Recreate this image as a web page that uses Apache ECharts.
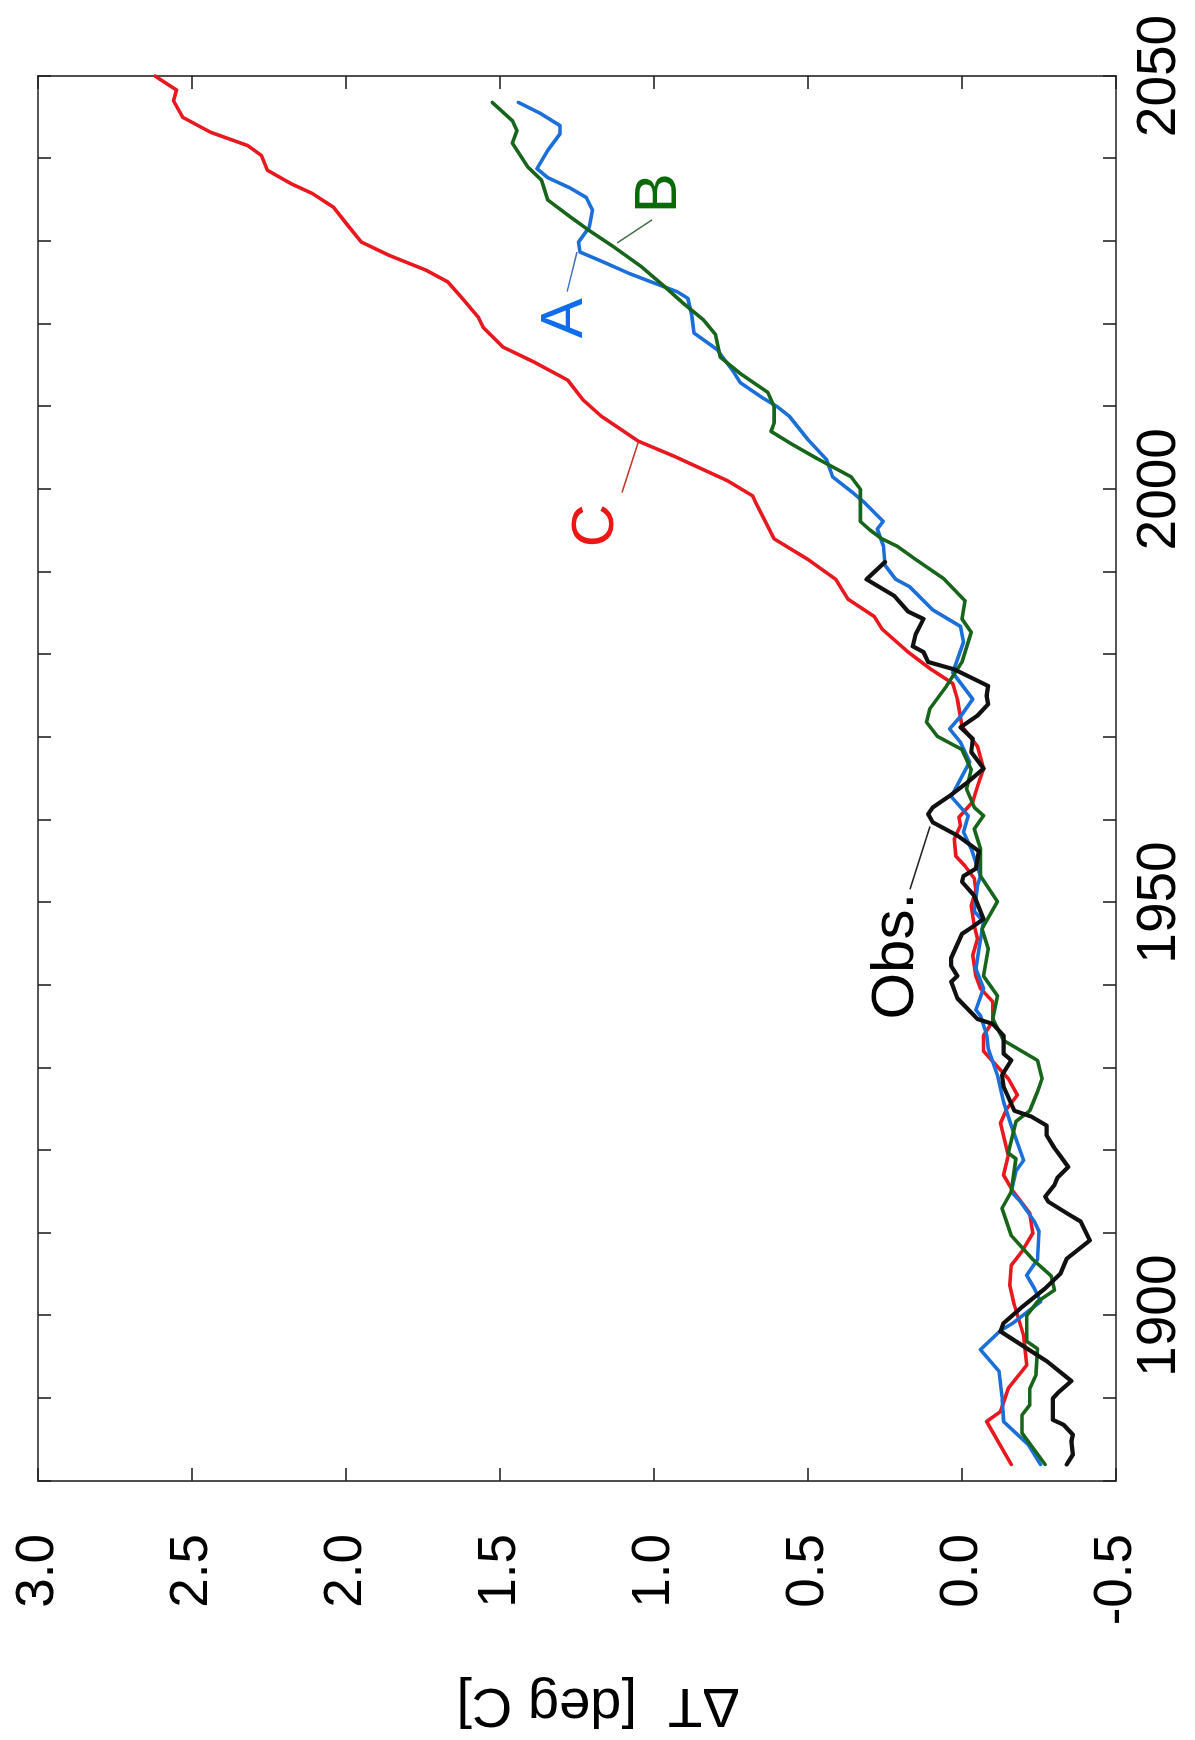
<!DOCTYPE html>
<html>
<head>
<meta charset="utf-8">
<script src="https://cdn.jsdelivr.net/npm/echarts@6/dist/echarts.min.js"></script>
<style>
    html, body { margin: 0; padding: 0; background: #fff; overflow: hidden; }
    /* chart is drawn upright, then turned a quarter turn to the left like the scan */
    #main {
        position: absolute; left: 0; top: 0;
        width: 1740px; height: 1195px;
        transform-origin: 0 0;
        transform: translate(0, 1740px) rotate(-90deg);
    }
</style>
</head>
<body>
<div id="main"></div>
<script type="text/javascript">
    // C (red)
    var yearsC = [1882, 1887.2, 1888.4, 1891.2, 1894, 1897.6, 1901.3, 1903.7, 1906.1, 1907.8, 1910, 1912.4, 1915.1, 1917, 1919.4,
        1923.3, 1925, 1926.7, 1928.7, 1932, 1933.9, 1935.6, 1938, 1939.6, 1941.1, 1943.6, 1945.6, 1947.2, 1949.6, 1951.6, 1952.9,
        1954.4, 1955.6, 1957.7, 1959.3, 1960.3, 1962.2, 1964, 1966.2, 1968.9, 1971.3, 1974.6, 1976.5, 1978.2, 1980.3, 1983.1,
        1984.6, 1986.7, 1989.1, 1991.5, 1994, 1998.4, 1999.2, 2001, 2004, 2005.8, 2008.8, 2010.8, 2013.2, 2015.4, 2017.2, 2019.6,
        2020.8, 2023.3, 2025.1, 2026.5, 2028.3, 2029.9, 2032.2, 2034.1, 2035.8, 2037, 2038.6, 2040.4, 2041.6, 2043.2, 2045,
        2047, 2048.3, 2050];
    var dtC = [-0.16, -0.08, -0.125, -0.15, -0.21, -0.2, -0.17, -0.155, -0.16, -0.195, -0.23, -0.22, -0.165, -0.135, -0.15,
        -0.125, -0.145, -0.18, -0.15, -0.07, -0.07, -0.1, -0.1, -0.06, -0.045, -0.035, -0.05, -0.04, -0.03, -0.045, -0.04,
        -0.01, 0.02, 0.025, 0.005, 0.01, -0.035, -0.05, -0.07, -0.05, 0.0, 0.015, 0.03, 0.1, 0.175, 0.26,
        0.285, 0.37, 0.41, 0.5, 0.61, 0.67, 0.68, 0.76, 0.935, 1.05, 1.17, 1.23, 1.28, 1.39, 1.49, 1.555,
        1.57, 1.627, 1.67, 1.74, 1.86, 1.95, 2.0, 2.04, 2.11, 2.18, 2.255, 2.275, 2.32, 2.44, 2.53,
        2.56, 2.55, 2.62];

    // A (blue)
    var yearsA = [1882, 1884.4, 1887.2, 1890.2, 1893.3, 1895.9, 1898.2, 1899.1, 1901.7, 1903.3, 1904.9, 1906.8, 1910.2, 1911.4,
        1913.8, 1915, 1917.5, 1918.8, 1923, 1925.9, 1929.1, 1932.3, 1934, 1936.3, 1937, 1939.6, 1942, 1944.4, 1947.7, 1948.9,
        1952, 1953.2, 1956.5, 1958.5, 1960.5, 1962.8, 1964.9, 1967, 1969.4, 1971, 1972.5, 1974.6, 1977.8, 1981.5, 1983.4,
        1985.4, 1988.2, 1989.1, 1990.8, 1993.1, 1995.2, 1996.1, 1998.5, 1999.6, 2001.5, 2003.6, 2006, 2008.8, 2010, 2011,
        2012.9, 2014.1, 2016.9, 2018.9, 2020.9, 2023.1, 2023.9, 2025.1, 2026.1, 2027.5, 2028.7, 2029.9, 2031.7, 2033.8,
        2035.3, 2036.5, 2037.7, 2038.8, 2041, 2043, 2044, 2045.5, 2046.8];
    var dtA = [-0.255, -0.215, -0.135, -0.13, -0.12, -0.06, -0.125, -0.165, -0.255, -0.235, -0.21, -0.245, -0.25, -0.235,
        -0.19, -0.16, -0.175, -0.2, -0.16, -0.135, -0.115, -0.085, -0.08, -0.06, -0.045, -0.07, -0.045, -0.055, -0.07, -0.04,
        -0.05, -0.06, -0.03, -0.005, -0.02, 0.035, 0.005, -0.025, 0.005, 0.04, 0.005, -0.035, 0.03, -0.005, 0.005,
        0.095, 0.17, 0.215, 0.25, 0.255, 0.275, 0.256, 0.32, 0.355, 0.42, 0.44, 0.5, 0.56, 0.6, 0.645,
        0.72, 0.74, 0.795, 0.87, 0.877, 0.89, 0.925, 1.01, 1.08, 1.165, 1.24, 1.245, 1.21, 1.2,
        1.22, 1.275, 1.345, 1.38, 1.345, 1.305, 1.305, 1.37, 1.44];

    // B (green)
    var yearsB = [1882, 1885.8, 1888, 1889.2, 1891.2, 1892.8, 1896, 1896.9, 1900, 1901.7, 1903.1, 1904.8, 1906.8, 1909.7, 1913,
        1915, 1919, 1919.7, 1923.5, 1924.8, 1927.1, 1928.7, 1930.9, 1933.3, 1935.9, 1938.7, 1941.1, 1944.4, 1946.8, 1950.1,
        1953.2, 1956.5, 1958.9, 1960.5, 1961.5, 1963.7, 1966.1, 1968.5, 1970.1, 1971.8, 1973.4, 1976.2, 1979.1, 1982.7, 1984.3,
        1986.5, 1989.2, 1991.5, 1993.1, 1994, 1995.1, 1996.1, 1998, 2000, 2001.5, 2003.7, 2005.4, 2007, 2008, 2010, 2011.7,
        2014, 2016, 2018.7, 2020.5, 2022.5, 2024.5, 2026.9, 2029.3, 2031.3, 2032.9, 2035, 2037.4, 2039, 2041.9, 2043.4,
        2044.6, 2046.8];
    var dtB = [-0.27, -0.195, -0.195, -0.22, -0.22, -0.24, -0.245, -0.21, -0.21, -0.245, -0.3, -0.29, -0.23, -0.16, -0.13,
        -0.16, -0.175, -0.15, -0.175, -0.22, -0.245, -0.26, -0.245, -0.135, -0.1, -0.115, -0.07, -0.085, -0.065, -0.115,
        -0.06, -0.06, -0.04, -0.07, -0.04, -0.015, -0.03, 0.0, 0.08, 0.115, 0.105, 0.05, 0.0, -0.03, 0.0,
        -0.01, 0.06, 0.15, 0.21, 0.26, 0.3, 0.33, 0.33, 0.33, 0.36, 0.47, 0.55, 0.62, 0.61, 0.61, 0.63,
        0.72, 0.785, 0.8, 0.84, 0.905, 0.965, 1.04, 1.13, 1.21, 1.27, 1.345, 1.365, 1.41, 1.46, 1.445,
        1.46, 1.525];

    // Obs. (black)
    var yearsObs = [1882, 1883.2, 1884.8, 1885.6, 1886.8, 1887.4, 1890, 1890.8, 1892.1, 1894.5, 1898.1, 1899.1, 1900.9, 1903.3,
        1905.1, 1906.9, 1909.1, 1911.4, 1912.4, 1913.8, 1914.4, 1915.8, 1916.7, 1918, 1919.3, 1920.3, 1921.8, 1923, 1924.1,
        1924.8, 1927.7, 1929.1, 1930.9, 1931.7, 1933.9, 1935.3, 1935.9, 1938.4, 1940.4, 1941.1, 1942.3, 1943.3, 1946.2, 1947.2,
        1948, 1950.8, 1952.5, 1953.2, 1954.1, 1956.2, 1958.1, 1959.7, 1960.7, 1961.5, 1962.9, 1964.6, 1966.2, 1968.2, 1969.8,
        1971.2, 1972.6, 1974, 1975, 1976.2, 1978.2, 1979.1, 1980.3, 1981, 1982.5, 1984.3, 1985.2, 1987.1, 1989.1, 1991.2];
    var dtObs = [-0.34, -0.36, -0.355, -0.36, -0.33, -0.295, -0.295, -0.315, -0.355, -0.275, -0.125, -0.135, -0.19, -0.27,
        -0.32, -0.34, -0.415, -0.385, -0.34, -0.28, -0.27, -0.3, -0.31, -0.345, -0.32, -0.3, -0.275, -0.275, -0.225,
        -0.17, -0.135, -0.13, -0.16, -0.135, -0.135, -0.1, -0.05, 0.015, 0.035, 0.015, 0.035, 0.035, 0.0, -0.04,
        -0.07, -0.04, 0.0, -0.005, -0.045, -0.055, 0.015, 0.095, 0.11, 0.095, 0.04, -0.02, -0.07, -0.03, -0.035,
        0.005, -0.05, -0.085, -0.08, -0.085, 0.025, 0.11, 0.125, 0.16, 0.15, 0.125, 0.175, 0.22, 0.31, 0.25];

    // axis ticks
    var yearTicks = [1880, 2050, 10];
    var dtTicks = [-0.5, 3.0, 0.5];

    // curve labels [year, dT] and their pointer lines
    var labelA = [2020.7, 1.289], leadA = [[2023.9, 1.282], [2028.7, 1.25]];
    var labelB = [2035.8, 0.981], leadB = [[2032.6, 1.006], [2029.8, 1.12]];
    var labelC = [1995.6, 1.188], leadC = [[1999.6, 1.104], [2005.6, 1.052]];
    var labelObs = [1943.5, 0.214], leadObs = [[1951.6, 0.169], [1959.2, 0.104]];

    function pairs(xs, ys) {
        return xs.map(function (x, i) { return [x, ys[i]]; });
    }

    function note(text, pos, lead, color, lineColor) {
        return {
            markPoint: {
                symbol: 'circle', symbolSize: 1, silent: true,
                itemStyle: {color: 'rgba(0,0,0,0)'},
                label: {
                    show: true, position: 'inside', formatter: text,
                    fontFamily: 'Liberation Sans', fontSize: 60, color: color
                },
                data: [{coord: pos}]
            },
            markLine: {
                symbol: 'none', silent: true, animation: false,
                label: {show: false},
                lineStyle: {color: lineColor, width: 1.5, type: 'solid'},
                data: [[{coord: lead[0]}, {coord: lead[1]}]]
            }
        };
    }

    var frame = {onZero: false, lineStyle: {color: '#222', width: 1.6}};
    var tick = {show: true, inside: true, length: 13, lineStyle: {color: '#222', width: 1.6}};
    var font = 'Liberation Sans';

    var chart = echarts.init(document.getElementById('main'));

    var mk = function (name, years, vals, color, width, txt, txtColor, lineColor, pos, lead) {
        var s = {
            name: name, type: 'line', showSymbol: false, smooth: false,
            data: pairs(years, vals),
            lineStyle: {color: color, width: width, join: 'round', cap: 'round'},
            itemStyle: {color: color}
        };
        var n = note(txt, pos, lead, txtColor, lineColor);
        s.markPoint = n.markPoint;
        s.markLine = n.markLine;
        return s;
    };

    var option = {
        animation: false,
        backgroundColor: '#fff',
        grid: {left: 257, right: 76, top: 38, bottom: 79},
        xAxis: [
            {
                type: 'value', position: 'bottom',
                min: yearTicks[0], max: yearTicks[1], interval: yearTicks[2],
                axisLine: frame, axisTick: tick, splitLine: {show: false},
                axisLabel: {
                    margin: 16, fontFamily: font, fontSize: 55, color: '#000',
                    showMaxLabel: true, showMinLabel: true,
                    formatter: function (v) { return v % 50 === 0 ? String(v) : ''; }
                }
            },
            {
                type: 'value', position: 'top',
                min: yearTicks[0], max: yearTicks[1], interval: yearTicks[2],
                axisLine: frame, axisTick: tick, splitLine: {show: false},
                axisLabel: {show: false}
            }
        ],
        yAxis: [
            {
                type: 'value', position: 'left',
                min: dtTicks[0], max: dtTicks[1], interval: dtTicks[2],
                axisLine: frame, axisTick: tick, splitLine: {show: false},
                axisLabel: {
                    margin: 53, fontFamily: font, fontSize: 53, color: '#000',
                    formatter: function (v) { return v.toFixed(1); }
                },
                name: 'ΔT  [deg C]', nameLocation: 'middle', nameGap: 195,
                nameTextStyle: {fontFamily: font, fontSize: 56, color: '#000', padding: [0, 42, 0, 0]}
            },
            {
                type: 'value', position: 'right',
                min: dtTicks[0], max: dtTicks[1], interval: dtTicks[2],
                axisLine: frame, axisTick: tick, splitLine: {show: false},
                axisLabel: {show: false}
            }
        ],
        series: [
            mk('C', yearsC, dtC, '#e8181e', 3.6, 'C', '#ee1515', '#c0392b', labelC, leadC),
            mk('A', yearsA, dtA, '#1b6fd8', 3.6, 'A', '#0f6ded', '#3a6fc0', labelA, leadA),
            mk('B', yearsB, dtB, '#17651a', 3.6, 'B', '#0a6a0a', '#3d6b45', labelB, leadB),
            mk('Obs.', yearsObs, dtObs, '#111', 4.2, 'Obs.', '#000', '#222', labelObs, leadObs)
        ]
    };
    chart.setOption(option);
</script>
</body>
</html>
